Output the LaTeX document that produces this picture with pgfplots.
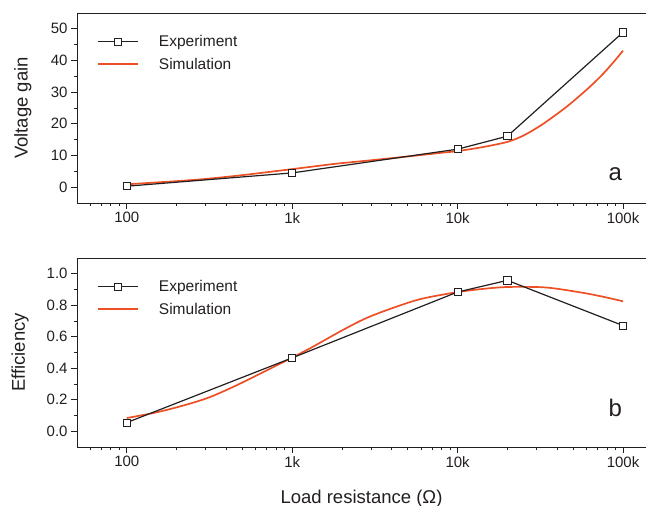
\documentclass[border=0pt]{standalone}
\usepackage{fontspec}
\setmainfont{Liberation Sans}
\usepackage{pgfplots}
\usepackage{pgfplotstable}
\pgfplotsset{compat=1.18}
\definecolor{simred}{RGB}{238,80,38}
\definecolor{txt}{RGB}{35,31,32}

\pgfplotstableread{
x y
100 0.3
1000 4.5
10000 12.0
20000 16.1
100000 48.9
}\expA

\pgfplotstableread{
x y
100 0.9
200 1.9
300 2.6
500 3.8
1000 5.7
1700 7.2
2000 7.6
3000 8.5
5000 9.7
7800 10.8
10000 11.4
14000 12.6
20000 14.3
25000 16.3
31400 19.3
38000 22.3
45600 25.4
54000 28.6
63000 31.7
72000 34.6
79600 37.0
90000 40.2
100000 43.1
}\simA

\pgfplotstableread{
x y
100 0.055
1000 0.466
10000 0.884
20000 0.958
100000 0.671
}\expB

\pgfplotstableread{
x y
100 0.084
148 0.118
214 0.160
311 0.213
451 0.287
655 0.371
951 0.456
1300 0.530
2000 0.640
2800 0.718
4060 0.783
6000 0.840
9800 0.882
14000 0.903
20200 0.916
34000 0.913
55000 0.882
75000 0.855
100000 0.825
}\simB

\pgfplotsset{
  every axis/.append style={
    scale only axis,
    width=569bp,
    xmin=50, xmax=137700,
    axis x line=bottom, axis y line=left,
    axis line style={-, color=txt, line width=0.9bp},
    tick align=outside,
    major tick length=6bp,
    minor tick length=3bp,
    tick style={color=txt, line width=0.8bp},
    xtick={100,1000,10000,100000},
    xticklabels={100,1k,10k,100k},
    minor xtick={60,70,80,90,200,300,400,500,600,700,800,900,2000,3000,4000,5000,6000,7000,8000,9000,20000,30000,40000,50000,60000,70000,80000,90000},
    minor y tick num=1,
    tick label style={font=\fontsize{15bp}{18bp}\selectfont, color=txt},
    label style={font=\fontsize{18.5bp}{22bp}\selectfont, color=txt},
    legend style={draw=none, fill=none, at={(0.03,0.905)}, anchor=north west,
      font=\fontsize{15.5bp}{18bp}\selectfont, text=txt,
      row sep=6bp,
      /tikz/every odd column/.append style={column sep=18bp}},
    legend cell align=left,
    reverse legend,
    legend image code/.code={\draw[mark repeat=2,mark phase=2] plot coordinates {(0bp,0bp) (20bp,0bp) (40bp,0bp)};},
    clip=false,
  },
  expstyle/.style={color=txt, line width=1.2bp, mark=square*, mark size=3.6bp,
    mark options={fill=white, draw=txt, line width=0.8bp}},
  simstyle/.style={color=simred, line width=1.7bp, no marks, smooth},
}

\begin{document}
\begin{tikzpicture}
\useasboundingbox (0bp,0bp) rectangle (646bp,506bp);
% panel a
\begin{semilogxaxis}[
  at={(77bp,303bp)}, anchor=south west,
  height=190bp,
  ymin=-5, ymax=55,
  ytick={0,10,20,30,40,50},
  yticklabel style={/pgf/number format/assume math mode=true},
  ylabel={Voltage gain},
  ylabel style={at={(axis description cs:-0.095,0.5)}, anchor=center},
]
\addplot[simstyle] table {\simA};
\addlegendentry{Simulation}
\addplot[expstyle] table {\expA};
\addlegendentry{Experiment}
\draw[color=txt, line width=0.9bp] (rel axis cs:0,1) -- (rel axis cs:1,1);
\node[anchor=base, font=\fontsize{24bp}{28bp}\selectfont, text=txt] at (rel axis cs:0.946,0.121) {a};
\end{semilogxaxis}
% panel b
\begin{semilogxaxis}[
  at={(77bp,59bp)}, anchor=south west,
  height=189bp,
  ymin=-0.1, ymax=1.1,
  ytick={0,0.2,0.4,0.6,0.8,1.0},
  yticklabel style={/pgf/number format/assume math mode=true, /pgf/number format/fixed, /pgf/number format/fixed zerofill, /pgf/number format/precision=1},
  ylabel={Efficiency},
  ylabel style={at={(axis description cs:-0.10,0.5)}, anchor=center},
  xlabel={Load resistance (Ω)},
  xlabel style={at={(axis description cs:0.5,0)}, anchor=base, yshift=-56bp},
]
\addplot[simstyle] table {\simB};
\addlegendentry{Simulation}
\addplot[expstyle] table {\expB};
\addlegendentry{Experiment}
\draw[color=txt, line width=0.9bp] (rel axis cs:0,1) -- (rel axis cs:1,1);
\node[anchor=base, font=\fontsize{24bp}{28bp}\selectfont, text=txt] at (rel axis cs:0.946,0.160) {b};
\end{semilogxaxis}
\end{tikzpicture}
\end{document}
